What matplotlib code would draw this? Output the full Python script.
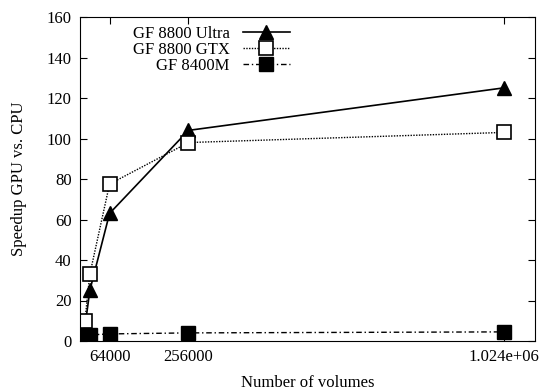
import matplotlib
matplotlib.use("Agg")
import matplotlib.pyplot as plt

volumes = [1000, 4000, 16000, 64000, 256000, 1024000]
ultra = [1.5, 7, 25, 63, 104, 125]
gtx = [2, 10, 33, 77.5, 98, 103]
m8400 = [0.5, 2, 3, 3.5, 4, 4.5]
xtick_vals = [64000, 256000, 1024000]
xtick_labels = ["64000", "256000", "1.024e+06"]

plt.rcParams['font.family'] = ['Liberation Serif', 'DejaVu Serif']
plt.rcParams['font.size'] = 12

fig = plt.figure(figsize=(5.46, 3.92), dpi=100)
ax = fig.add_axes([80 / 546, 1 - 341 / 392, 455 / 546, 324 / 392])

ax.plot(volumes, ultra, color="black", lw=1.2, ls="-", marker="^", ms=10,
        label="GF 8800 Ultra")
ax.plot(volumes, gtx, color="black", lw=1.0, ls=(0, (1, 1)), marker="s", ms=10,
        mfc="white", mec="black", mew=1.2, label="GF 8800 GTX")
ax.plot(volumes, m8400, color="black", lw=1.0, ls=(0, (4, 2, 1, 2)), marker="s", ms=10,
        label="GF 8400M")

ax.set_xlim(-8000, 1.1e6)
ax.set_ylim(0, 160)
ax.set_xticks(xtick_vals)
ax.set_xticklabels(xtick_labels)
ax.set_yticks(range(0, 161, 20))
ax.tick_params(direction="in", top=True, right=True, length=5, pad=6)
ax.set_xlabel("Number of volumes", labelpad=7)
ax.set_ylabel("Speedup GPU vs. CPU", labelpad=14)

ax.legend(loc="upper left", bbox_to_anchor=(0.096, 1.0), frameon=False,
          markerfirst=False, handlelength=2.8, labelspacing=0.0,
          handletextpad=0.8, borderaxespad=0.15)

fig.savefig("out.png", dpi=100)
